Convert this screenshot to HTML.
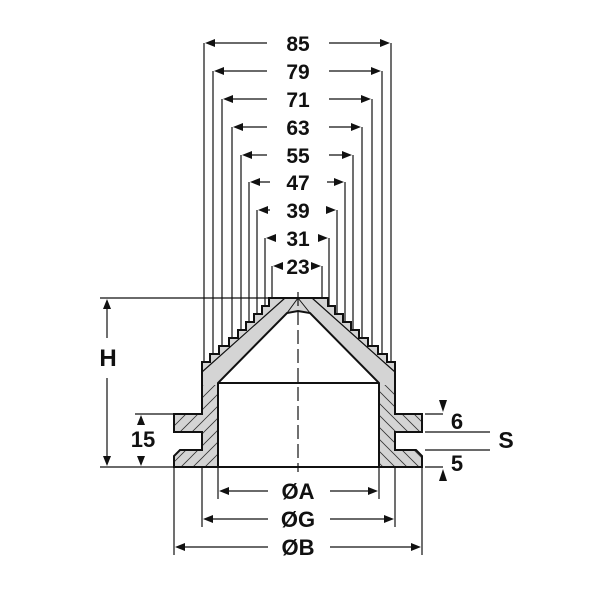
<!DOCTYPE html>
<html><head><style>
html,body{margin:0;padding:0;background:#fff;}
svg{display:block;}
text{font-family:"Liberation Sans",Arial,sans-serif;font-weight:bold;fill:#111;}
</style></head><body>
<svg width="600" height="600" viewBox="0 0 600 600" xmlns="http://www.w3.org/2000/svg">
<defs>
<pattern id="hl" patternUnits="userSpaceOnUse" width="12" height="12"><path d="M0,12 L12,0 M-3,3 L3,-3 M9,15 L15,9" stroke="#333" stroke-width="0.8"/></pattern>
<pattern id="hr" patternUnits="userSpaceOnUse" width="12" height="12"><path d="M0,0 L12,12 M-3,9 L3,15 M9,-3 L15,3" stroke="#333" stroke-width="0.8"/></pattern>
<clipPath id="body"><path id="bp" d="M174,414 H202 V362 H210 V354 H219 V346 H229 V338 H238 V330 H246 V322 H254 V314 H262 V306 H269 V298 H328 V306 H335 V314 H343 V322 H351 V330 H359 V338 H368 V346 H378 V354 H387 V362 H395 V414 H422 V432 H395 V450 H416 L422,456 V467 H174 V456 L180,450 H202 V432 H174 Z"/></clipPath>
</defs>
<g stroke="#111" stroke-width="1.2" fill="none">
<path d="M204,43V362 M213,71V354 M222,99V346 M232,127V338 M241,155V330 M249,182V322 M257,210V314 M265,238V306 M272,266V298"/>
<path d="M391,43V362 M382,71V354 M372,99V346 M362,127V338 M353,155V330 M345,182V322 M337,210V314 M329,238V306 M322,266V298"/>
</g>
<!-- body -->
<path d="M174,414 H202 V362 H210 V354 H219 V346 H229 V338 H238 V330 H246 V322 H254 V314 H262 V306 H269 V298 H328 V306 H335 V314 H343 V322 H351 V330 H359 V338 H368 V346 H378 V354 H387 V362 H395 V414 H422 V432 H395 V450 H416 L422,456 V467 H174 V456 L180,450 H202 V432 H174 Z" fill="#d4d4d4" stroke="none"/>
<g clip-path="url(#body)">
<rect x="170" y="385" width="128" height="85" fill="url(#hl)"/>
<rect x="298" y="385" width="128" height="85" fill="url(#hr)"/>
</g>
<path d="M174,414 H202 V362 H210 V354 H219 V346 H229 V338 H238 V330 H246 V322 H254 V314 H262 V306 H269 V298 H328 V306 H335 V314 H343 V322 H351 V330 H359 V338 H368 V346 H378 V354 H387 V362 H395 V414 H422 V432 H395 V450 H416 L422,456 V467 H174 V456 L180,450 H202 V432 H174 Z" fill="none" stroke="#111" stroke-width="2"/>
<path d="M202,372 L285,298 M395,372 L312,298" stroke="#111" stroke-width="1.2" fill="none"/>
<!-- inner cavity -->
<path d="M218,467 V383 L287,313 L298,311 L310,313 L379,383 V467 Z" fill="#fff" stroke="#111" stroke-width="2"/>
<path d="M218,383 H379" stroke="#111" stroke-width="2"/>
<path d="M298,298 L287,313 M298,298 L310,313" stroke="#111" stroke-width="1"/>
<path d="M298,292 V472" stroke="#111" stroke-width="1.2" stroke-dasharray="14,5"/>
<g stroke="#111" stroke-width="1.2" fill="none">
<path d="M267,43H210 M329,43H385"/>
<path d="M267,71H219 M329,71H376"/>
<path d="M267,99H228 M329,99H366"/>
<path d="M267,127H238 M329,127H356"/>
<path d="M267,155H247 M329,155H347"/>
<path d="M270,182H255 M327,182H339"/>
<path d="M270,210H263 M327,210H331"/>
<path d="M100,298H285 M100,467H174"/>
<path d="M107,338V302 M107,378V463"/>
<path d="M135,414H174"/>
<path d="M141,424V418 M141,456V463"/>
<path d="M174,467V555 M202,467V527 M218,467V499 M379,467V499 M395,467V527 M422,467V555"/>
<path d="M268,491H222 M330,491H375"/>
<path d="M268,519H206 M330,519H391"/>
<path d="M268,547H178 M330,547H418"/>
<path d="M425,414H443 M425,432H490 M425,450H490 M425,467H443"/>
</g>
<g fill="#111">
<polygon points="205,43 215,39 215,47"/><polygon points="390,43 380,39 380,47"/>
<polygon points="214,71 224,67 224,75"/><polygon points="381,71 371,67 371,75"/>
<polygon points="223,99 233,95 233,103"/><polygon points="371,99 361,95 361,103"/>
<polygon points="233,127 243,123 243,131"/><polygon points="361,127 351,123 351,131"/>
<polygon points="242,155 252,151 252,159"/><polygon points="352,155 342,151 342,159"/>
<polygon points="250,182 260,178 260,186"/><polygon points="344,182 334,178 334,186"/>
<polygon points="258,210 268,206 268,214"/><polygon points="336,210 326,206 326,214"/>
<polygon points="266,238 276,234 276,242"/><polygon points="328,238 318,234 318,242"/>
<polygon points="273,266 283,262 283,270"/><polygon points="321,266 311,262 311,270"/>
<polygon points="107,299 103,309 111,309"/><polygon points="107,466 103,456 111,456"/>
<polygon points="141,415 137,425 145,425"/><polygon points="141,466 137,456 145,456"/>
<polygon points="219,491 229,487 229,495"/><polygon points="378,491 368,487 368,495"/>
<polygon points="203,519 213,515 213,523"/><polygon points="394,519 384,515 384,523"/>
<polygon points="175,547 185,543 185,551"/><polygon points="421,547 411,543 411,551"/>
<polygon points="443,412 439,400 447,400"/><polygon points="443,469 439,481 447,481"/>
</g>
<g font-size="21" text-anchor="middle">
<text x="298" y="51">85</text>
<text x="298" y="79">79</text>
<text x="298" y="107">71</text>
<text x="298" y="135">63</text>
<text x="298" y="163">55</text>
<text x="298" y="190">47</text>
<text x="298" y="218">39</text>
<text x="298" y="246">31</text>
<text x="298" y="274">23</text>
<text x="108" y="366" font-size="24">H</text>
<text x="143" y="447" font-size="22">15</text>
<text x="298" y="499" font-size="22">ØA</text>
<text x="298" y="527" font-size="22">ØG</text>
<text x="298" y="555" font-size="22">ØB</text>
<text x="457" y="429" font-size="22">6</text>
<text x="457" y="471" font-size="22">5</text>
<text x="506" y="448" font-size="23">S</text>
</g>
</svg>
</body></html>
